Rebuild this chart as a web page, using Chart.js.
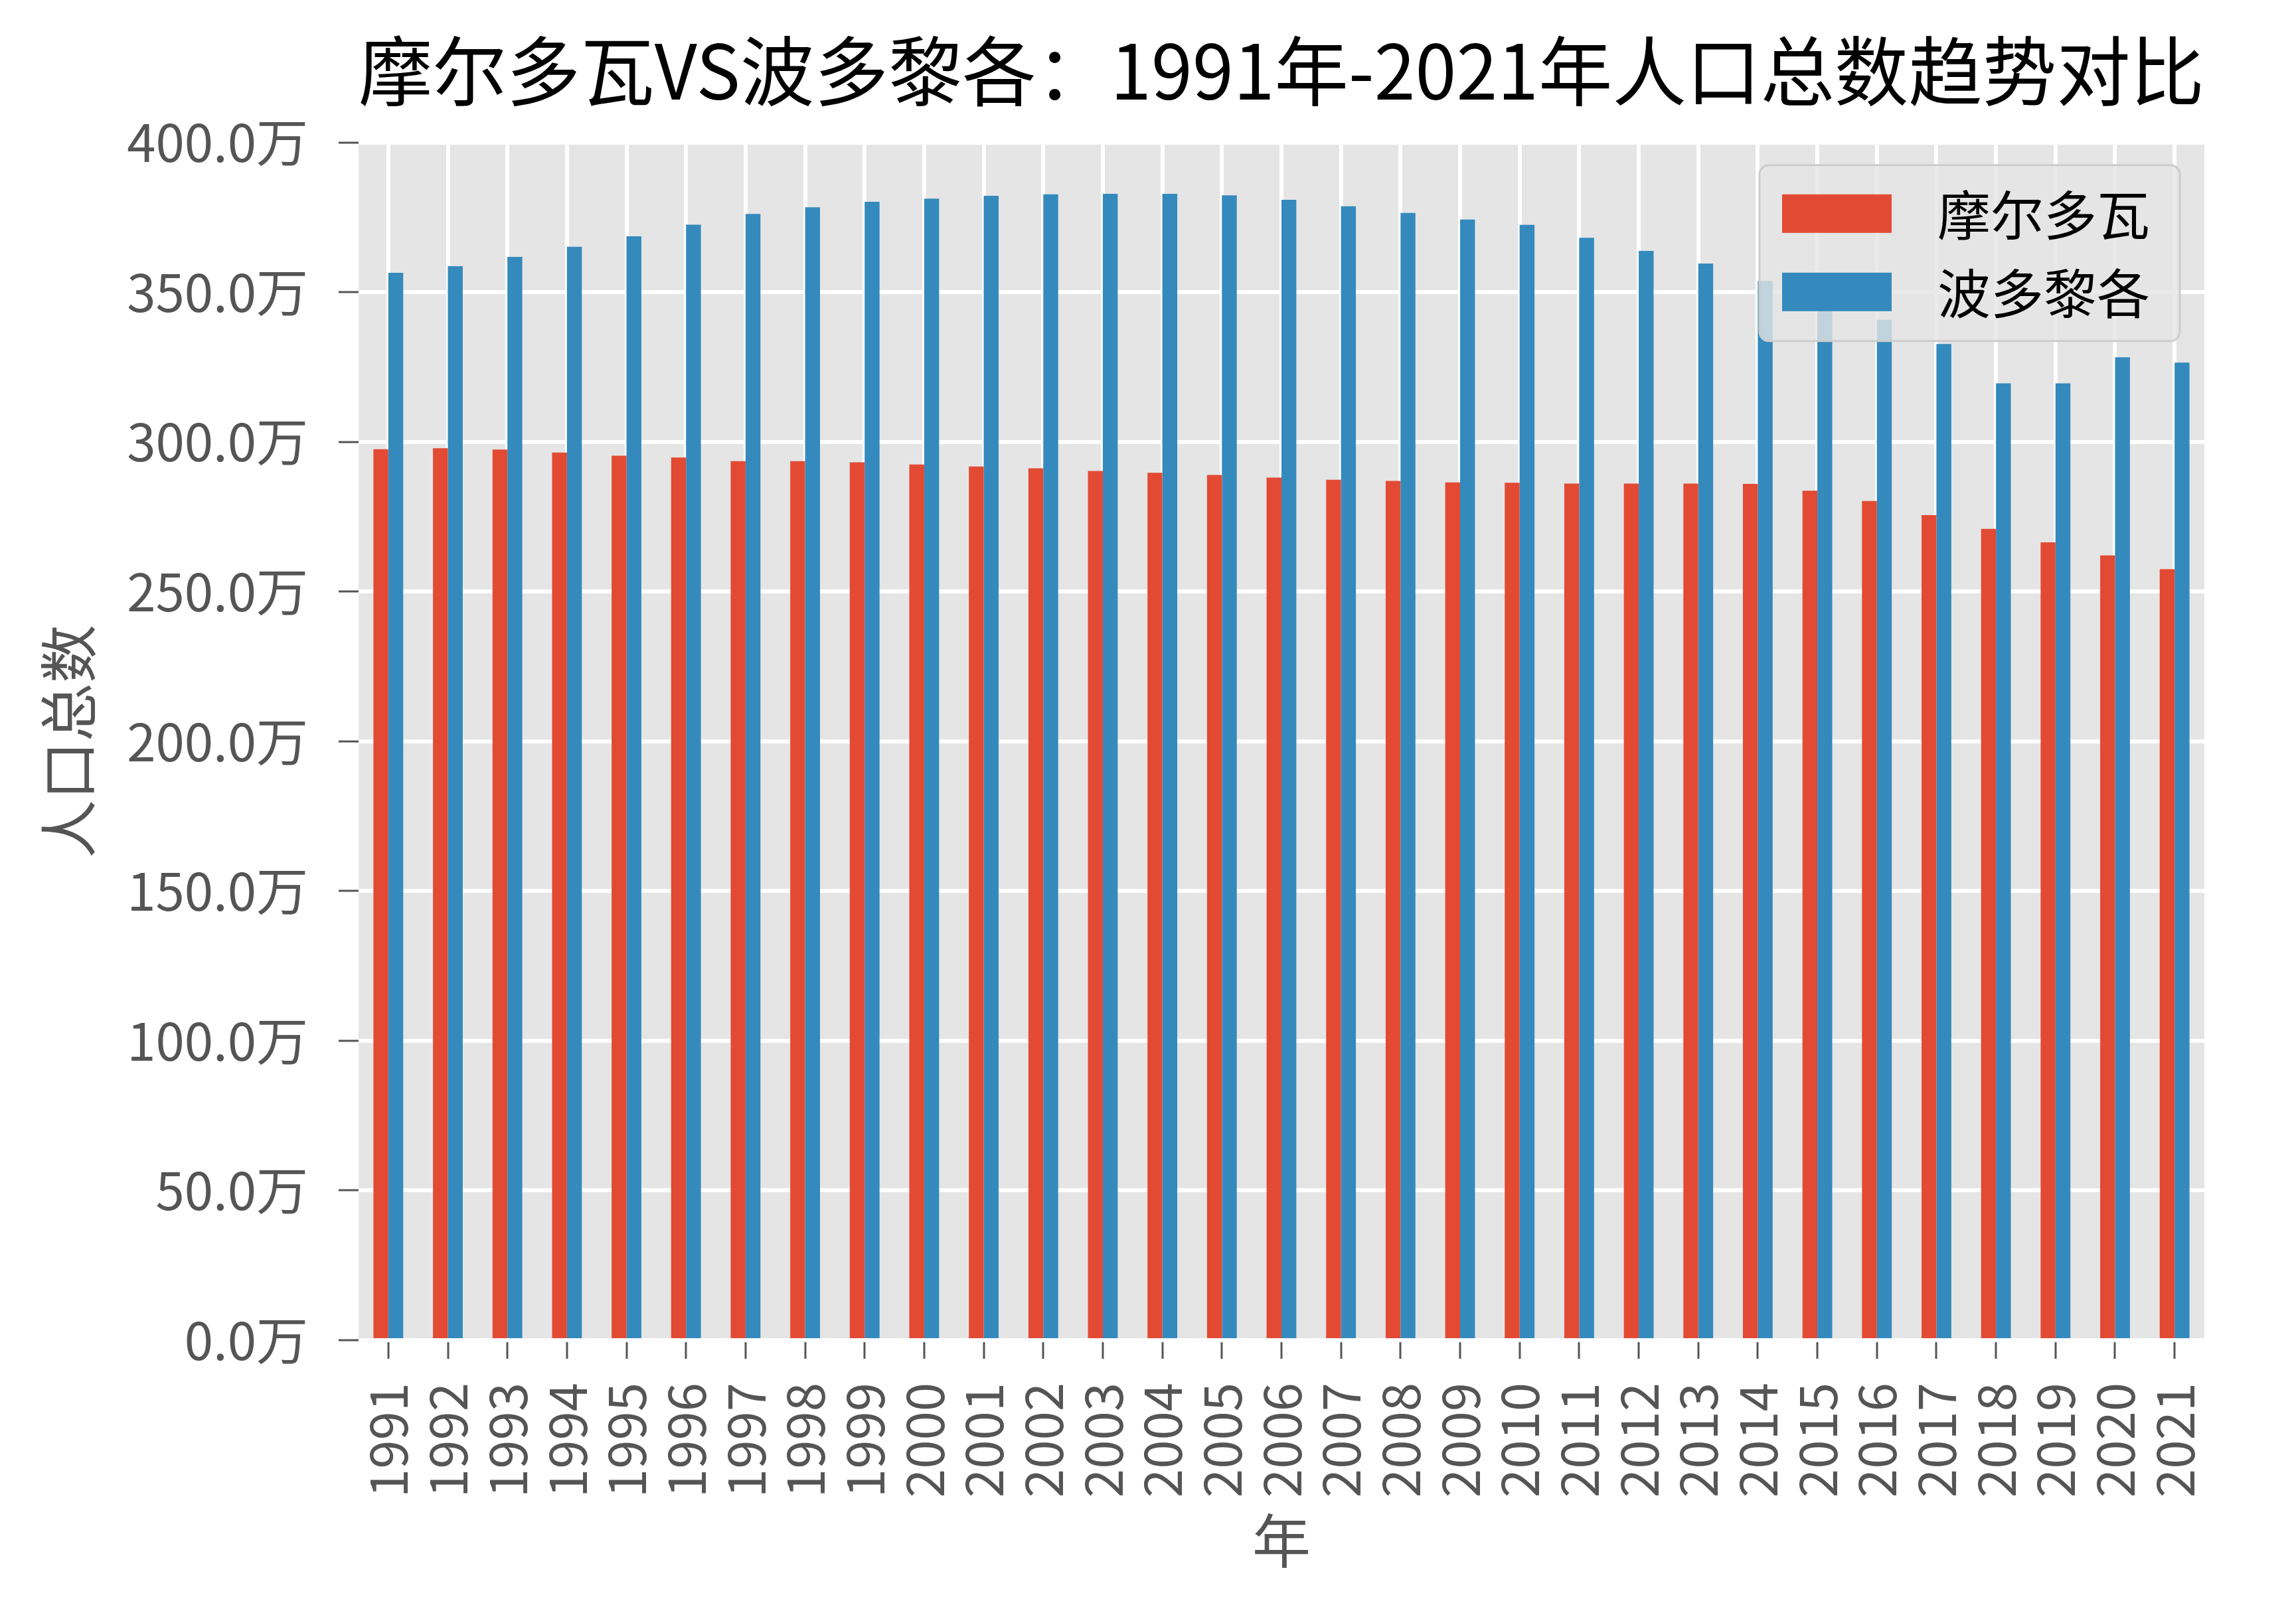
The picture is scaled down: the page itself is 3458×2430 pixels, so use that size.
<!DOCTYPE html>
<html>
<head>
<meta charset="utf-8">
<script src="https://cdn.jsdelivr.net/npm/chart.js@4"></script>
<style>
  body { margin: 0; background: #fff; }
</style>
</head>
<body>
<canvas id="grafico" width="3458" height="2430"></canvas>
<script>
// anos e populações (em 万)
const anos = ['1991','1992','1993','1994','1995','1996','1997','1998','1999','2000',
  '2001','2002','2003','2004','2005','2006','2007','2008','2009','2010',
  '2011','2012','2013','2014','2015','2016','2017','2018','2019','2020','2021'];

const moldova = [297.6, 297.9, 297.5, 296.5, 295.4, 294.8, 293.6, 293.6, 293.2, 292.5,
  291.8, 291.2, 290.3, 289.7, 289.0, 288.1, 287.4, 287.0, 286.5, 286.4,
  286.1, 286.1, 286.1, 286.0, 283.7, 280.3, 275.6, 271.0, 266.5, 262.1, 257.5];

const portoRico = [356.5, 358.7, 361.8, 365.2, 368.7, 372.6, 376.2, 378.4, 380.2, 381.3,
  382.2, 382.7, 382.9, 382.9, 382.4, 380.9, 378.7, 376.5, 374.3, 372.5,
  368.2, 363.8, 359.6, 353.8, 344.1, 340.8, 332.7, 319.6, 319.6, 328.3, 326.5];

const nomes = ['摩尔多瓦', '波多黎各'];
const cores = ['#E24A33', '#348ABD'];

const yMin = 0, yMax = 400, yPasso = 50;

Chart.defaults.font.family = '"Noto Sans CJK SC", "Noto Sans", sans-serif';

// fundo cinza da área do gráfico
const fundo = {
  id: 'fundo',
  beforeDraw(chart) {
    const { ctx, chartArea: a } = chart;
    ctx.save();
    ctx.fillStyle = '#ffffff';
    ctx.fillRect(0, 0, chart.width, chart.height);
    ctx.fillStyle = '#E5E5E5';
    ctx.fillRect(a.left, a.top, a.right - a.left, a.bottom - a.top);
    ctx.restore();
  }
};

// legenda dentro do gráfico, canto superior direito
const legendaInterna = {
  id: 'legendaInterna',
  afterDatasetsDraw(chart) {
    const { ctx, chartArea: a } = chart;
    const w = 633, h = 265;
    const left = a.right - 37 - w, top = a.top + 34;
    ctx.save();
    ctx.beginPath();
    ctx.roundRect(left, top, w, h, 14);
    ctx.fillStyle = 'rgba(229,229,229,0.8)';
    ctx.fill();
    ctx.lineWidth = 3;
    ctx.strokeStyle = '#cccccc';
    ctx.stroke();
    chart.data.datasets.forEach((ds, i) => {
      const y = top + 44 + i * 118;
      ctx.fillStyle = ds.backgroundColor;
      ctx.fillRect(left + 34, y, 165, 58);
      ctx.fillStyle = '#000';
      ctx.font = '80px "Noto Sans CJK SC"';
      ctx.textBaseline = 'middle';
      ctx.textAlign = 'left';
      ctx.fillText(ds.label, left + 268, y + 31);
    });
    ctx.restore();
  }
};

const ctx = document.getElementById('grafico').getContext('2d');

new Chart(ctx, {
  type: 'bar',
  data: {
    labels: anos,
    datasets: [
      { label: nomes[0], data: moldova, backgroundColor: cores[0] },
      { label: nomes[1], data: portoRico, backgroundColor: cores[1] }
    ]
  },
  options: {
    responsive: false,
    animation: false,
    devicePixelRatio: 1,
    layout: { padding: { top: 0, left: 0, right: 138, bottom: 0 } },
    datasets: {
      bar: { categoryPercentage: 0.5, barPercentage: 1.0 }
    },
    plugins: {
      legend: { display: false },
      tooltip: { enabled: false },
      title: {
        display: true,
        fullSize: false,
        text: '摩尔多瓦VS波多黎各：1991年-2021年人口总数趋势对比',
        color: '#000',
        font: { size: 114, weight: 'normal' },
        padding: { top: 38, bottom: 40 }
      }
    },
    scales: {
      x: {
        afterFit: (s) => { s.height = 411; },
        grid: {
          offset: false,
          color: '#ffffff',
          lineWidth: 6,
          tickColor: '#555555',
          tickLength: 28,
          tickWidth: 3
        },
        border: { display: false },
        ticks: {
          color: '#555555',
          font: { size: 78 },
          minRotation: 90,
          maxRotation: 90,
          autoSkip: false,
          padding: 36
        },
        title: {
          display: true,
          text: '年',
          color: '#555555',
          font: { size: 88 },
          padding: { top: 0, bottom: 57 }
        }
      },
      y: {
        min: yMin,
        max: yMax,
        afterFit: (s) => { s.width = 540; },
        grid: {
          color: '#ffffff',
          lineWidth: 6,
          tickColor: '#555555',
          tickLength: 30,
          tickWidth: 3
        },
        border: { display: false },
        ticks: {
          stepSize: yPasso,
          color: '#555555',
          font: { size: 78 },
          padding: 46,
          callback: (v) => v.toFixed(1) + '万'
        },
        title: {
          display: true,
          text: '人口总数',
          color: '#555555',
          font: { size: 88 },
          padding: { top: 50, bottom: 0 }
        }
      }
    }
  },
  plugins: [fundo, legendaInterna]
});
</script>
</body>
</html>
